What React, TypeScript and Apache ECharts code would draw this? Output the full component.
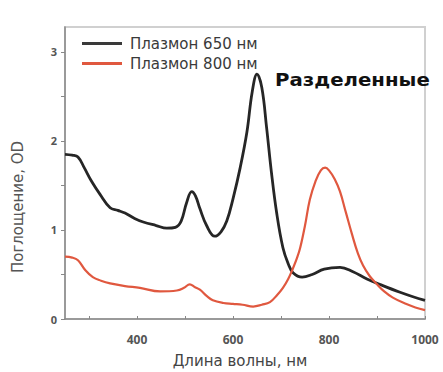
import React, { useEffect, useRef } from "react";
import * as echarts from "echarts";

const seriesNames = ["Плазмон 650 нм", "Плазмон 800 нм"];

const plasmon650: [number, number][] = [
  [250, 1.85], [265, 1.84], [277, 1.82], [290, 1.7], [305, 1.55], [323, 1.4], [344, 1.25],
  [360, 1.22], [375, 1.19], [395, 1.13], [413, 1.09], [440, 1.05], [462, 1.02], [480, 1.03],
  [492, 1.1], [503, 1.3], [514, 1.43], [522, 1.38], [531, 1.24], [545, 1.05], [562, 0.93],
  [575, 0.98], [587, 1.1], [600, 1.35], [615, 1.7], [629, 2.1], [640, 2.55], [650, 2.75],
  [660, 2.6], [670, 2.15], [680, 1.65], [691, 1.19], [704, 0.8], [715, 0.62], [725, 0.52],
  [744, 0.47], [765, 0.5], [790, 0.56], [823, 0.58], [850, 0.53], [879, 0.45], [910, 0.38],
  [948, 0.3], [975, 0.25], [1000, 0.21],
];

const plasmon800: [number, number][] = [
  [250, 0.7], [265, 0.69], [277, 0.66], [292, 0.55], [308, 0.47], [325, 0.43], [344, 0.4],
  [375, 0.37], [406, 0.35], [448, 0.31], [483, 0.32], [498, 0.35], [510, 0.39], [520, 0.36],
  [531, 0.33], [545, 0.26], [558, 0.21], [580, 0.18], [600, 0.17], [620, 0.16], [642, 0.14],
  [660, 0.16], [677, 0.19], [692, 0.27], [704, 0.35], [715, 0.45], [725, 0.57], [733, 0.68],
  [740, 0.8], [750, 1.05], [760, 1.34], [772, 1.55], [783, 1.67], [792, 1.7], [800, 1.67],
  [812, 1.57], [823, 1.43], [835, 1.2], [848, 0.95], [860, 0.74], [871, 0.6], [885, 0.48],
  [900, 0.39], [915, 0.31], [933, 0.24], [960, 0.17], [980, 0.13], [1000, 0.1],
];

const xTicks = [300, 400, 500, 600, 700, 800, 900, 1000];
const xLabels = [400, 600, 800, 1000];
const yTicks = [0, 0.5, 1, 1.5, 2, 2.5, 3];
const yLabels = [0, 1, 2, 3];

const xAxisName = "Длина волны, нм";
const yAxisName = "Поглощение, OD";
const annotation = "Разделенные";

export default function App() {
  const ref = useRef<HTMLDivElement>(null);
  useEffect(() => {
    if (!ref.current) return;
    const chart = echarts.init(ref.current, undefined, { renderer: "svg" });
    const font = "'DejaVu Sans', 'Open Sans', sans-serif";
    const boldFont = "'Open Sans', 'DejaVu Sans', sans-serif";
    chart.setOption({
      animation: false,
      grid: {
        left: 65, top: 27, right: 18, bottom: 53,
        show: true, borderColor: "#d0d0d0", borderWidth: 2,
      },
      legend: {
        data: seriesNames.map((n) => ({ name: n, icon: "rect" })),
        orient: "vertical",
        left: 77, top: 31,
        itemWidth: 40, itemHeight: 3, itemGap: 5,
        textStyle: { fontFamily: font, fontSize: 15, color: "#3a3a3a", padding: [0, 0, 0, 3] },
      },
      xAxis: {
        type: "value", min: 250, max: 1000,
        axisLine: { show: true, lineStyle: { color: "#888", width: 1.5 } },
        axisTick: { show: true, inside: true, length: 3, customValues: xTicks, lineStyle: { color: "#888" } },
        axisLabel: {
          customValues: xLabels, fontFamily: boldFont, fontWeight: "bold", fontSize: 12,
          color: "#555", margin: 14, formatter: (v: number) => String(v),
        },
        splitLine: { show: false },
      },
      yAxis: {
        type: "value", min: 0, max: 3.28,
        axisLine: { show: true, lineStyle: { color: "#888", width: 1.5 } },
        axisTick: { show: true, length: 4, customValues: yTicks, lineStyle: { color: "#888" } },
        axisLabel: {
          customValues: yLabels, fontFamily: boldFont, fontWeight: "bold", fontSize: 11,
          color: "#555", margin: 8,
        },
        splitLine: { show: false },
      },
      series: [
        {
          name: seriesNames[0], type: "line", data: plasmon650, smooth: 0.4, symbol: "none",
          lineStyle: { color: "#262626", width: 2.8 }, itemStyle: { color: "#3a3a3a" },
        },
        {
          name: seriesNames[1], type: "line", data: plasmon800, smooth: 0.4, symbol: "none",
          lineStyle: { color: "#e0583f", width: 2.2 }, itemStyle: { color: "#e0583f" },
        },
      ],
      graphic: [
        {
          type: "text", x: 240, y: 361,
          style: { text: xAxisName, fontFamily: font, fontSize: 15, fill: "#444", align: "center", verticalAlign: "middle" },
        },
        {
          type: "text", x: 18, y: 207, rotation: Math.PI / 2,
          style: { text: yAxisName, fontFamily: font, fontSize: 15, fill: "#555", align: "center", verticalAlign: "middle" },
        },
        {
          type: "text", x: 275, y: 80, scaleX: 1.16,
          style: { text: annotation, fontFamily: font, fontSize: 17, fontWeight: "bold", fill: "#111", align: "left", verticalAlign: "middle" },
        },
      ],
    });
    return () => chart.dispose();
  }, []);
  return <div ref={ref} style={{ width: 443, height: 372, position: "absolute", left: 0, top: 0 }} />;
}
